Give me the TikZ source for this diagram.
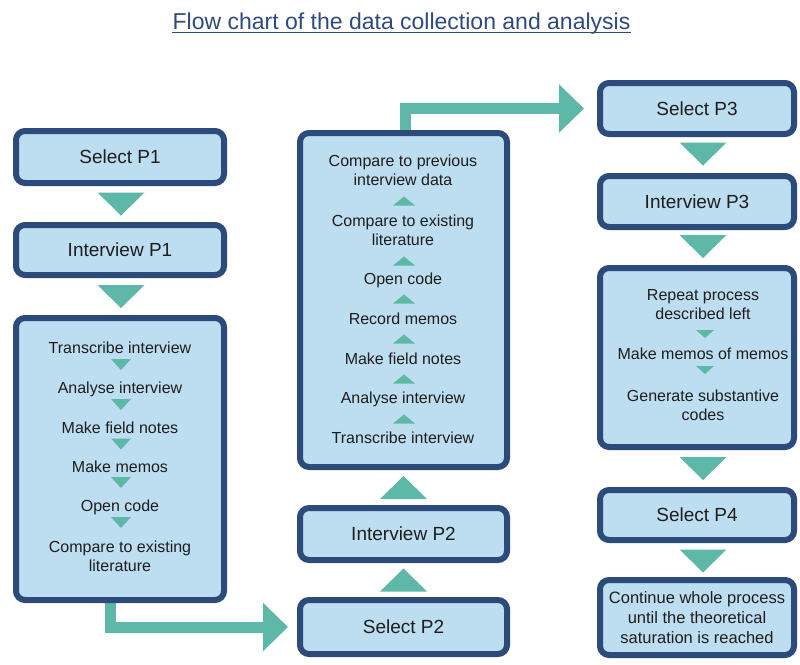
\documentclass[tikz,border=0pt]{standalone}
\usepackage{fontspec}
\setmainfont{Liberation Sans}
\usetikzlibrary{arrows.meta,calc,backgrounds}
\definecolor{navy}{RGB}{45,75,122}
\definecolor{boxfill}{RGB}{189,221,240}
\definecolor{tealc}{RGB}{93,184,168}
\definecolor{txt}{RGB}{30,30,30}
\definecolor{titlec}{RGB}{47,74,125}
\begin{document}
\begin{tikzpicture}[x=1pt,y=-1pt,
  box/.style={draw=navy, fill=boxfill, line width=6pt, rounded corners=9pt, inner sep=0pt,
    text=txt, font=\fontsize{19}{23}\selectfont, align=center},
  item/.style={inner sep=0pt, anchor=north, text=txt, font=\fontsize{16}{19.5}\selectfont, align=center},
  bigarrow/.style={draw=tealc, line width=11pt, -{Triangle[width=47pt,length=25pt]}},
  downtri/.pic={\fill[tealc] (-23.5,-11.5) -- (23.5,-11.5) -- (0,11.5) -- cycle;},
  uptri/.pic={\fill[tealc] (-23.5,11.5) -- (23.5,11.5) -- (0,-11.5) -- cycle;},
  smalldown/.pic={\fill[tealc] (-10,-5.5) -- (10,-5.5) -- (0,5.5) -- cycle;},
  smallup/.pic={\fill[tealc] (-11,4.5) -- (11,4.5) -- (0,-4.5) -- cycle;},
  smalldownb/.pic={\fill[tealc] (-9,-4) -- (9,-4) -- (0,4) -- cycle;}
]
\useasboundingbox (0,0) rectangle (800,664);

% title
\node[inner sep=0pt, anchor=base, text=titlec, font=\fontsize{23}{27}\selectfont] (title) at (401.5,29)
  {Flow chart of the data collection and analysis};
\draw[titlec, line width=1.4pt] ($(title.base west)+(0,3.5)$) -- ($(title.base east)+(0,3.5)$);

% column 1
\node[box, minimum width=208pt, minimum height=52pt] (S1) at (120,157) {Select P1};
\node[box, minimum width=208pt, minimum height=50pt] (I1) at (120,250) {Interview P1};
\node[box, minimum width=208pt, minimum height=282pt] (B1) at (120,459) {};
\node[item] (a1) at (120,341.25) {Transcribe interview};
\node[item] (a2) at (120,381.25) {Analyse interview};
\node[item] (a3) at (120,421.25) {Make field notes};
\node[item] (a4) at (120,460.25) {Make memos};
\node[item] (a5) at (120,499.25) {Open code};
\node[item] (a6) at (120,540.25) {Compare to existing\\literature};
\pic at (121,364.5) {smalldown};
\pic at (121,404.5) {smalldown};
\pic at (121,444) {smalldown};
\pic at (121,482.5) {smalldown};
\pic at (121,522.5) {smalldown};
\pic at ($(S1.south)!0.5!(I1.north)+(1,0)$) {downtri};
\pic at ($(I1.south)!0.5!(B1.north)+(1,0)$) {downtri};

% column 2
\node[box, minimum width=207pt, minimum height=334pt] (B2) at (403.5,300) {};
\node[box, minimum width=207pt, minimum height=52pt] (I2) at (403.5,534) {Interview P2};
\node[box, minimum width=207pt, minimum height=54pt] (S2) at (403.5,627) {Select P2};
\node[item] (b1) at (403,154.25) {Compare to previous\\interview data};
\node[item] (b2) at (403,214.25) {Compare to existing\\literature};
\node[item] (b3) at (403,272.25) {Open code};
\node[item] (b4) at (403,312.25) {Record memos};
\node[item] (b5) at (403,352.25) {Make field notes};
\node[item] (b6) at (403,391.25) {Analyse interview};
\node[item] (b7) at (403,431.25) {Transcribe interview};
\pic at (404,201) {smallup};
\pic at (404,261) {smallup};
\pic at (404,299) {smallup};
\pic at (404,339) {smallup};
\pic at (404,379) {smallup};
\pic at (404,419) {smallup};
\pic at ($(B2.south)!0.5!(I2.north)$) {uptri};
\pic at ($(I2.south)!0.5!(S2.north)$) {uptri};

% column 3
\node[box, minimum width=194pt, minimum height=51pt] (S3) at (697,108.5) {Select P3};
\node[box, minimum width=194pt, minimum height=51pt] (I3) at (697,201.5) {Interview P3};
\node[box, minimum width=194pt, minimum height=179pt] (B3) at (697,357.5) {};
\node[box, minimum width=194pt, minimum height=50pt] (S4) at (697,515) {Select P4};
\node[box, minimum width=194pt, minimum height=75pt, font=\fontsize{16.5}{20}\selectfont] (F) at (697,617.5)
  {Continue whole process\\until the theoretical\\saturation is reached};
\node[item] (c1) at (703,289.25) {Repeat process\\described left};
\node[item] (c2) at (703,347.25) {Make memos of memos};
\node[item] (c3) at (703,389.25) {Generate substantive\\codes};
\pic at (705,334) {smalldownb};
\pic at (705,370) {smalldownb};
\pic at ($(S3.south)!0.5!(I3.north)+(6,-1)$) {downtri};
\pic at ($(I3.south)!0.5!(B3.north)+(6,-1)$) {downtri};
\pic at ($(B3.south)!0.5!(S4.north)+(6,0)$) {downtri};
\pic at ($(S4.south)!0.5!(F.north)+(6,1)$) {downtri};

% elbow arrows (behind the boxes)
\begin{scope}[on background layer]
  \fill[white] (0,0) rectangle (800,664);
  \draw[bigarrow, shorten >=9pt] ($(B1.center)+(-10,0)$) |- (S2.west);
  \draw[bigarrow, shorten >=13pt] ($(B2.center)+(1.5,0)$) |- (S3.west);
\end{scope}
\end{tikzpicture}
\end{document}
